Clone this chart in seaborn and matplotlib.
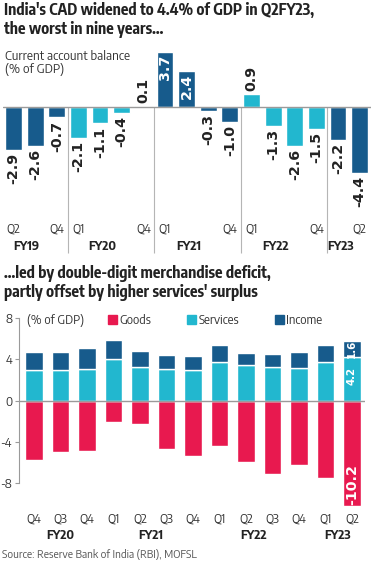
import matplotlib
matplotlib.use("Agg")
import matplotlib.pyplot as plt
from matplotlib.patches import Patch
import pandas as pd
import seaborn as sns

# --- top chart: current account balance (% of GDP) ---
cab_periods = ["Q2FY19", "Q3FY19", "Q4FY19",
               "Q1FY20", "Q2FY20", "Q3FY20", "Q4FY20",
               "Q1FY21", "Q2FY21", "Q3FY21", "Q4FY21",
               "Q1FY22", "Q2FY22", "Q3FY22", "Q4FY22",
               "Q1FY23", "Q2FY23"]
cab_fy = ["FY19", "FY19", "FY19",
          "FY20", "FY20", "FY20", "FY20",
          "FY21", "FY21", "FY21", "FY21",
          "FY22", "FY22", "FY22", "FY22",
          "FY23", "FY23"]
cab_values = [-2.9, -2.6, -0.7, -2.1, -1.1, -0.4, 0.1, 3.7, 2.4, -0.3, -1.0,
              0.9, -1.3, -2.6, -1.5, -2.2, -4.4]
cab_ticks = ["Q2FY19", "Q4FY19", "Q1FY20", "Q4FY20", "Q1FY21", "Q4FY21",
             "Q1FY22", "Q4FY22", "Q2FY23"]
cab_tick_labels = ["Q2", "Q4", "Q1", "Q4", "Q1", "Q4", "Q1", "Q4", "Q2"]
fy_names = ["FY19", "FY20", "FY21", "FY22", "FY23"]

# --- bottom chart: components (% of GDP) ---
bop_periods = ["Q4FY19", "Q3FY20", "Q4FY20", "Q1FY21", "Q2FY21", "Q3FY21", "Q4FY21",
               "Q1FY22", "Q2FY22", "Q3FY22", "Q4FY22", "Q1FY23", "Q2FY23"]
bop_quarters = ["Q4", "Q3", "Q4", "Q1", "Q2", "Q3", "Q4", "Q1", "Q2", "Q3", "Q4", "Q1", "Q2"]
goods = [-5.7, -5.0, -4.9, -2.1, -2.3, -4.7, -5.3, -4.4, -5.9, -7.1, -6.2, -7.5, -10.2]
services = [3.0, 3.0, 3.1, 4.0, 3.3, 3.1, 3.0, 3.7, 3.4, 3.3, 3.2, 3.7, 4.2]
income = [1.7, 1.7, 2.0, 1.9, 1.5, 1.3, 1.3, 1.7, 1.2, 1.2, 1.5, 1.7, 1.6]
bop_fy_names = ["FY20", "FY21", "FY22", "FY23"]

BLUE = "#175b8c"
CYAN = "#22b7cf"
PINK = "#e8194f"
TEXT = "#222222"
GREY = "#9a9a9a"
LABEL = dict(rotation=90, ha="center", fontweight="bold", family="DejaVu Sans")

sns.set_theme(style="white")
plt.rcParams["font.family"] = ["Encode Sans Semi Condensed", "DejaVu Sans"]
plt.rcParams["axes.unicode_minus"] = False

W, H = 374, 561
fig = plt.figure(figsize=(W / 100, H / 100), dpi=100)


def px_axes(left, top, right, bottom):
    return fig.add_axes([left / W, 1 - bottom / H, (right - left) / W, (bottom - top) / H])


def fig_xy(x, y):
    return x / W, 1 - y / H


# titles
fig.text(*fig_xy(4, 2), "India's CAD widened to 4.4% of GDP in Q2FY23,\nthe worst in nine years...",
         va="top", ha="left", fontsize=11.3, fontweight="bold", color=TEXT,
         family="Encode Sans Condensed", linespacing=1.15)
fig.text(*fig_xy(5, 50), "Current account balance\n(% of GDP)", va="top", ha="left",
         fontsize=9.1, color="#333333", linespacing=1.05)

# ---------- top chart ----------
ax1 = px_axes(2.7, 45, 370.5, 220)
df1 = pd.DataFrame({"period": cab_periods, "fy": cab_fy, "value": cab_values})
pal = {"FY19": BLUE, "FY20": CYAN, "FY21": BLUE, "FY22": CYAN, "FY23": BLUE}
sns.barplot(data=df1, x="period", y="value", hue="fy", palette=pal, dodge=False,
            width=0.78, saturation=1, legend=False, ax=ax1)
ax1.set_xlim(-0.5, 16.5)
ax1.set_ylim(-7.58, 4.16)
ax1.axhline(0, color=GREY, lw=1, zorder=3)
for s in ax1.spines.values():
    s.set_visible(False)
ax1.set_yticks([])
ax1.set_xlabel("")
ax1.set_ylabel("")
ax1.set_xticks([cab_periods.index(p) for p in cab_ticks], cab_tick_labels)
ax1.tick_params(axis="x", length=0, pad=1.5, labelsize=8.8, labelcolor="#333333")

for i, v in enumerate(cab_values):
    if v < 0:
        ax1.text(i, v - 0.2, f"{v:.1f}", va="top", fontsize=10.3, color=TEXT, **LABEL)
    elif v > 2:
        ax1.text(i, v - 0.2, f"{v:.1f}", va="top", fontsize=10.3, color="white", **LABEL)
    else:
        ax1.text(i, v + 0.2, f"{v:.1f}", va="bottom", fontsize=10.3, color=TEXT, **LABEL)

# fiscal-year groups: separators and labels
for k, fy in enumerate(fy_names):
    idx = [i for i, f in enumerate(cab_fy) if f == fy]
    ax1.text((idx[0] + idx[-1]) / 2 - 0.4, -9.33, fy, ha="center", va="center",
             fontsize=8.8, fontweight="bold", color=TEXT)
    if k > 0:
        ax1.vlines(idx[0] - 0.5, -9.8, 0, color="#b5b5b5", lw=0.8, clip_on=False)

# ---------- bottom chart ----------
fig.text(*fig_xy(4, 265), "...led by double-digit merchandise deficit,\npartly offset by higher services' surplus",
         va="top", ha="left", fontsize=11.3, fontweight="bold", color=TEXT,
         family="Encode Sans Condensed", linespacing=1.15)

ax2 = px_axes(19, 310, 365, 510)
sns.barplot(x=bop_periods, y=goods, color=PINK, width=0.67, saturation=1, ax=ax2)
sns.barplot(x=bop_periods, y=services, color=CYAN, width=0.67, saturation=1, ax=ax2)
sns.barplot(x=bop_periods, y=income, bottom=services, color=BLUE, width=0.67,
            saturation=1, ax=ax2)
ax2.set_xlim(-0.566, 12.49)
ax2.set_ylim(-10.56, 8.76)
ax2.axhline(0, color=GREY, lw=1, zorder=3)
for s in ["top", "right", "bottom"]:
    ax2.spines[s].set_visible(False)
ax2.spines["left"].set_color(GREY)
ax2.spines["left"].set_linewidth(0.8)
ax2.spines["left"].set_bounds(-8, 8)
ax2.set_yticks([8, 4, 0, -4, -8], ["8", "4", "0", "-4", "-8"])
ax2.tick_params(axis="y", left=True, length=3, width=0.8, color=GREY, pad=2,
                labelsize=8.8, labelcolor="#333333")
ax2.set_xticks(range(len(bop_quarters)), bop_quarters)
ax2.tick_params(axis="x", length=0, pad=1.5, labelsize=8.8, labelcolor="#333333")
ax2.set_xlabel("")
ax2.set_ylabel("")

fy_pos = {"FY20": 1.0, "FY21": 4.4, "FY22": 8.3, "FY23": 11.45}
for fy in bop_fy_names:
    ax2.text(fy_pos[fy], -13.07, fy, ha="center", va="center", fontsize=8.8,
             fontweight="bold", color=TEXT)

last = len(bop_periods) - 1
ax2.text(last, services[last] / 2 + 0.3, f"{services[last]:.1f}", va="center",
         fontsize=7.4, color="white", **LABEL)
ax2.text(last, services[last] + income[last] / 2, f"{income[last]:.1f}", va="center",
         fontsize=7.4, color="white", **LABEL)
ax2.text(last, goods[last] + 0.15, f"{goods[last]:.1f}", va="bottom",
         fontsize=10.3, color="white", **LABEL)

# legend row
fig.text(*fig_xy(27, 320.7), "(% of GDP)", ha="left", va="center", fontsize=8.8, color="#333333")
handles = [Patch(color=PINK), Patch(color=CYAN), Patch(color=BLUE)]
ax2.legend(handles, ["Goods", "Services", "Income"], ncol=3, loc="center left",
           bbox_to_anchor=fig_xy(108, 320.7), bbox_transform=fig.transFigure,
           frameon=False, handlelength=0.75, handleheight=0.75, handletextpad=0.2,
           columnspacing=2.9, borderpad=0, borderaxespad=0, fontsize=8.8,
           labelcolor="#333333")

fig.text(*fig_xy(2, 554), "Source: Reserve Bank of India (RBI), MOFSL", ha="left", va="center",
         fontsize=7.8, color="#555555")

fig.savefig("out.png", dpi=100)
